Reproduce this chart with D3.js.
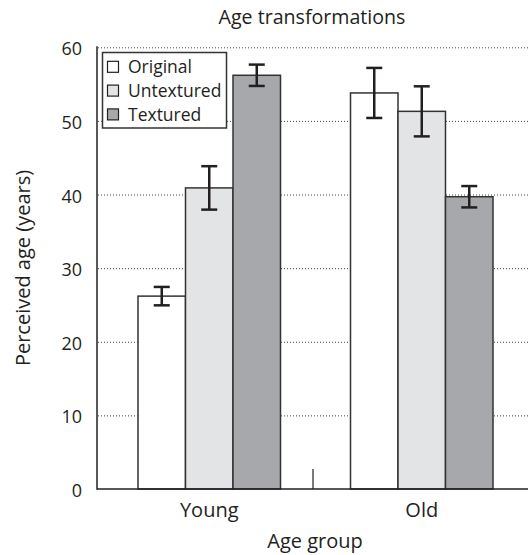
<!DOCTYPE html>
<html>
<head>
<meta charset="utf-8">
<script src="https://cdn.jsdelivr.net/npm/d3@7"></script>
<style>
  body { margin: 0; background: #fff; }
  text { font-family: "Open Sans", sans-serif; fill: #231f20; }
</style>
</head>
<body>
<div id="chart"></div>
<script>
"use strict";
var groups = [ "Young", "Old" ];
var series = [ "Original", "Untextured", "Textured" ];
var original = [ 26.2, 53.8 ];
var untextured = [ 40.9, 51.3 ];
var textured = [ 56.2, 39.7 ];
var errOriginal = [ 1.25, 3.4 ];
var errUntextured = [ 2.95, 3.4 ];
var errTextured = [ 1.45, 1.45 ];
var yTicks = [ 0, 10, 20, 30, 40, 50, 60 ];
var colors = [ "#ffffff", "#e3e4e6", "#a7a8ab" ];

var width = 528, height = 555;
var svg = d3.select( "#chart" ).append( "svg" )
  .attr( "width", width )
  .attr( "height", height );

var y = d3.scaleLinear().domain( [ 0, 60 ] ).range( [ 489, 47.3 ] );
var x0 = d3.scaleBand().domain( groups ).range( [ 103, 528 ] );
var x1 = d3.scaleBand().domain( series ).range( [ 0, 142.5 ] );

// rows for bars, one per group x series
var means = [ original, untextured, textured ];
var errs = [ errOriginal, errUntextured, errTextured ];
var rows = [];
groups.forEach( function( g, gi ) {
  series.forEach( function( s, si ) {
    rows.push( { group: g, key: s, si: si, value: means[si][gi], err: errs[si][gi] } );
  } );
} );

function barX( d ) {
  return x0( d.group ) + x0.bandwidth() / 2 - 71.25 + x1( d.key );
}

// dotted grid
svg.append( "g" ).selectAll( "line" )
  .data( yTicks.filter( function( t ) { return t > 0; } ) )
  .enter().append( "line" )
  .attr( "x1", 98 ).attr( "x2", width )
  .attr( "y1", function( d ) { return y( d ) + 0.5; } )
  .attr( "y2", function( d ) { return y( d ) + 0.5; } )
  .attr( "stroke", "#444" )
  .attr( "stroke-width", 1 )
  .attr( "stroke-dasharray", "1,2" );

// bars
svg.append( "g" ).selectAll( "rect" )
  .data( rows )
  .enter().append( "rect" )
  .attr( "x", barX )
  .attr( "y", function( d ) { return y( d.value ); } )
  .attr( "width", x1.bandwidth() )
  .attr( "height", function( d ) { return y( 0 ) - y( d.value ); } )
  .attr( "fill", function( d ) { return colors[d.si]; } )
  .attr( "stroke", "#333" )
  .attr( "stroke-width", 1.5 );

// error bars
var eb = svg.append( "g" ).selectAll( "g" )
  .data( rows )
  .enter().append( "g" )
  .attr( "stroke", "#231f20" )
  .attr( "stroke-width", 2.5 );
eb.append( "line" )
  .attr( "x1", function( d ) { return barX( d ) + x1.bandwidth() / 2; } )
  .attr( "x2", function( d ) { return barX( d ) + x1.bandwidth() / 2; } )
  .attr( "y1", function( d ) { return y( d.value + d.err ); } )
  .attr( "y2", function( d ) { return y( d.value - d.err ); } );
[ 1, -1 ].forEach( function( sign ) {
  eb.append( "line" )
    .attr( "x1", function( d ) { return barX( d ) + x1.bandwidth() / 2 - 8; } )
    .attr( "x2", function( d ) { return barX( d ) + x1.bandwidth() / 2 + 8; } )
    .attr( "y1", function( d ) { return y( d.value + sign * d.err ); } )
    .attr( "y2", function( d ) { return y( d.value + sign * d.err ); } );
} );

// axes lines
svg.append( "line" )
  .attr( "x1", 97 ).attr( "x2", 97 )
  .attr( "y1", y( 60 ) - 1 ).attr( "y2", y( 0 ) + 0.75 )
  .attr( "stroke", "#231f20" ).attr( "stroke-width", 1.5 );
svg.append( "line" )
  .attr( "x1", 97 ).attr( "x2", width )
  .attr( "y1", y( 0 ) ).attr( "y2", y( 0 ) )
  .attr( "stroke", "#231f20" ).attr( "stroke-width", 1.5 );
// separator tick between groups
svg.append( "line" )
  .attr( "x1", x0( "Old" ) - 2.5 ).attr( "x2", x0( "Old" ) - 2.5 )
  .attr( "y1", y( 0 ) ).attr( "y2", y( 0 ) - 20 )
  .attr( "stroke", "#231f20" ).attr( "stroke-width", 1.2 );

// y tick labels
svg.append( "g" ).selectAll( "text" )
  .data( yTicks )
  .enter().append( "text" )
  .attr( "x", 82 )
  .attr( "y", function( d ) { return y( d ); } )
  .attr( "dy", "0.45em" )
  .attr( "text-anchor", "end" )
  .style( "font-size", "18px" )
  .text( function( d ) { return d; } );

// x labels
svg.append( "g" ).selectAll( "text" )
  .data( groups )
  .enter().append( "text" )
  .attr( "x", function( d ) { return x0( d ) + x0.bandwidth() / 2; } )
  .attr( "y", 517 )
  .attr( "text-anchor", "middle" )
  .style( "font-size", "20px" )
  .text( function( d ) { return d; } );

// titles
svg.append( "text" )
  .attr( "x", 312 ).attr( "y", 24 )
  .attr( "text-anchor", "middle" )
  .style( "font-size", "19.6px" )
  .text( "Age transformations" );
svg.append( "text" )
  .attr( "x", 315 ).attr( "y", 548 )
  .attr( "text-anchor", "middle" )
  .style( "font-size", "20px" )
  .text( "Age group" );
svg.append( "text" )
  .attr( "transform", "translate(30,268) rotate(-90)" )
  .attr( "text-anchor", "middle" )
  .style( "font-size", "20px" )
  .text( "Perceived age (years)" );

// legend
var lg = svg.append( "g" ).attr( "transform", "translate(102.5,52.5)" );
lg.append( "rect" )
  .attr( "width", 124 ).attr( "height", 75.5 )
  .attr( "fill", "#fff" )
  .attr( "stroke", "#333" ).attr( "stroke-width", 1.5 );
var li = lg.selectAll( "g.item" )
  .data( series )
  .enter().append( "g" )
  .attr( "class", "item" )
  .attr( "transform", function( d, i ) { return "translate(0," + ( 14.3 + i * 23.8 ) + ")"; } );
li.append( "rect" )
  .attr( "x", 5 ).attr( "y", -5.5 )
  .attr( "width", 11 ).attr( "height", 11 )
  .attr( "fill", function( d, i ) { return colors[i]; } )
  .attr( "stroke", "#231f20" ).attr( "stroke-width", 1.2 );
li.append( "text" )
  .attr( "x", 25.5 ).attr( "dy", "0.36em" )
  .style( "font-size", "17.5px" )
  .text( function( d ) { return d; } );
</script>
</body>
</html>
